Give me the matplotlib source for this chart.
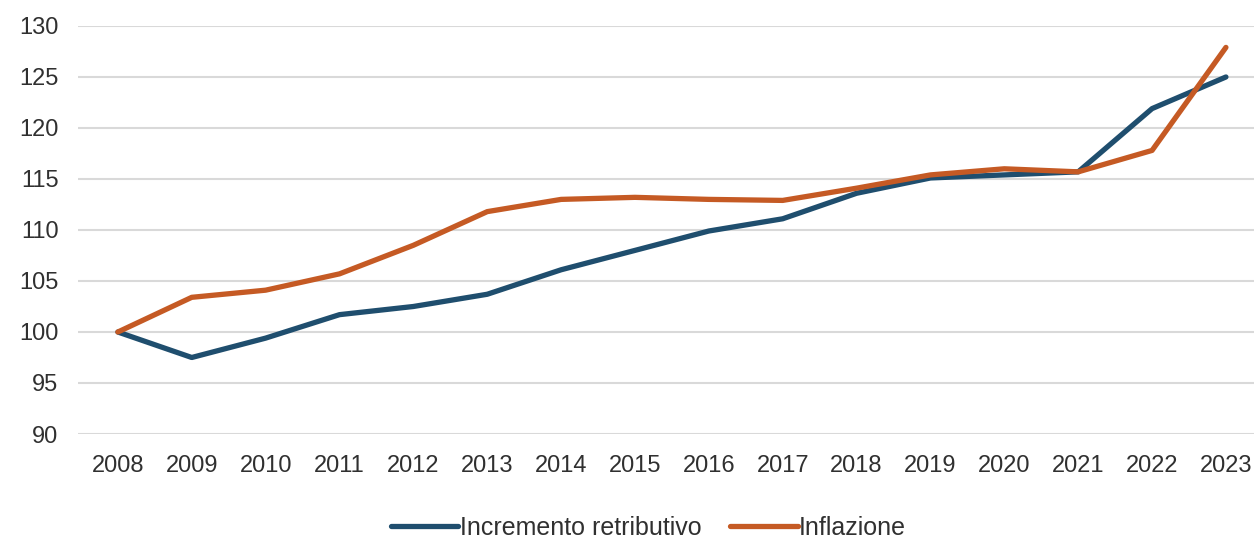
import matplotlib.pyplot as plt

years = ["2008", "2009", "2010", "2011", "2012", "2013", "2014", "2015",
         "2016", "2017", "2018", "2019", "2020", "2021", "2022", "2023"]
retributivo = [100, 97.5, 99.4, 101.7, 102.5, 103.7, 106.1, 108.0,
               109.9, 111.1, 113.6, 115.1, 115.4, 115.7, 121.9, 125.0]
inflazione = [100, 103.4, 104.1, 105.7, 108.5, 111.8, 113.0, 113.2,
              113.0, 112.9, 114.1, 115.4, 116.0, 115.7, 117.8, 127.9]

plt.rcParams['font.family'] = ['Liberation Sans', 'DejaVu Sans']

fig = plt.figure(figsize=(12.54, 5.39), dpi=100)
ax = fig.add_axes([0.0622, 0.1948, 0.9378, 0.757])

x = list(range(len(years)))
ax.plot(x, retributivo, color="#1f4e6e", linewidth=3.8, label="Incremento retributivo",
        solid_capstyle="round", zorder=3)
ax.plot(x, inflazione, color="#c55a24", linewidth=3.8, label="Inflazione",
        solid_capstyle="round", zorder=4)

ax.set_ylim(90, 130)
ax.set_yticks(range(90, 131, 5))
ax.set_xlim(-0.54, 15.38)
ax.set_xticks(x)
ax.set_xticklabels(years)

ax.grid(axis="y", color="#d9d9d9", linewidth=1.5)
ax.set_axisbelow(True)
for s in ax.spines.values():
    s.set_visible(False)
ax.tick_params(axis="both", length=0, labelsize=17, labelcolor="#303030")
ax.tick_params(axis="y", pad=14)
ax.tick_params(axis="x", pad=15)

fig.legend(loc="center", bbox_to_anchor=(0.517, 0.021), ncol=2, frameon=False,
           fontsize=18, handlelength=2.7, handletextpad=0.05, columnspacing=1.15,
           labelcolor="#303030")

plt.savefig("out.png", dpi=100)
plt.close()
